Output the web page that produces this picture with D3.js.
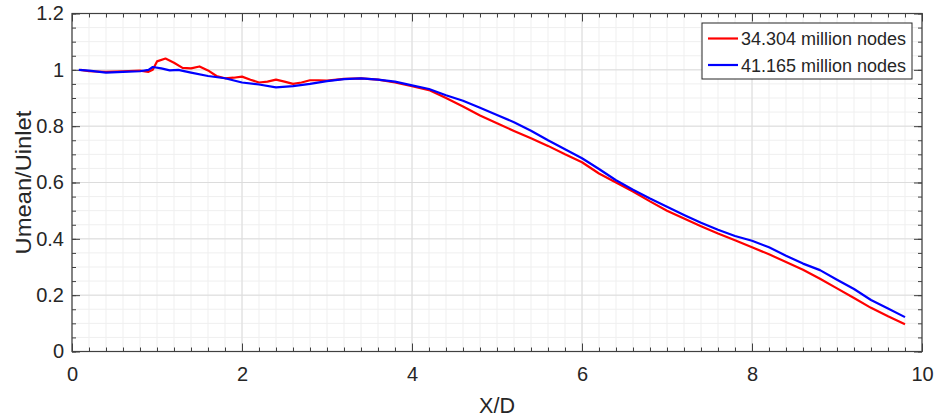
<!DOCTYPE html>
<html><head><meta charset="utf-8">
<script src="https://cdn.jsdelivr.net/npm/d3@7"></script>
<style>body{margin:0;background:#fff}svg{display:block}text{font-family:"Liberation Sans",Arial,sans-serif;fill:#262626}</style>
</head><body><svg id="c" width="936" height="420"></svg>
<script>
const seriesNames = ["34.304 million nodes", "41.165 million nodes"];
const seriesColors = ["#ff0000", "#0000ff"];
const redX = [0.1,0.2,0.4,0.6,0.8,0.9,0.95,1.0,1.1,1.2,1.3,1.4,1.5,1.6,1.7,1.8,1.9,2.0,2.1,2.2,2.3,2.4,2.5,2.6,2.7,2.8,2.9,3.0,3.2,3.4,3.6,3.8,4.0,4.2,4.4,4.6,4.8,5.0,5.2,5.4,5.6,5.8,6.0,6.2,6.4,6.6,6.8,7.0,7.2,7.4,7.6,7.8,8.0,8.2,8.4,8.6,8.8,9.0,9.2,9.4,9.6,9.8];
const redY = [1.0,0.995,0.993,0.995,0.997,0.993,1.0,1.03,1.04,1.025,1.007,1.005,1.012,0.998,0.978,0.97,0.972,0.976,0.965,0.955,0.958,0.965,0.958,0.95,0.955,0.963,0.963,0.962,0.968,0.97,0.965,0.955,0.942,0.928,0.9,0.87,0.838,0.81,0.783,0.757,0.73,0.70,0.672,0.632,0.6,0.568,0.533,0.5,0.472,0.445,0.419,0.395,0.37,0.345,0.318,0.29,0.258,0.224,0.19,0.155,0.125,0.097];
const blueX = [0.08,0.2,0.4,0.6,0.8,0.9,0.95,1.05,1.15,1.25,1.4,1.6,1.8,2.0,2.2,2.4,2.6,2.8,3.0,3.2,3.4,3.6,3.8,4.0,4.2,4.4,4.6,4.8,5.0,5.2,5.4,5.6,5.8,6.0,6.2,6.4,6.6,6.8,7.0,7.2,7.4,7.6,7.8,8.0,8.2,8.4,8.6,8.8,9.0,9.2,9.4,9.6,9.8];
const blueY = [1.0,0.997,0.99,0.993,0.995,1.0,1.01,1.005,0.998,1.0,0.99,0.978,0.97,0.955,0.948,0.938,0.942,0.95,0.96,0.967,0.97,0.965,0.958,0.945,0.932,0.91,0.89,0.865,0.84,0.814,0.784,0.75,0.718,0.686,0.648,0.608,0.574,0.543,0.514,0.485,0.457,0.432,0.41,0.393,0.37,0.34,0.312,0.289,0.255,0.222,0.183,0.153,0.122];
const xTicks = [0,2,4,6,8,10];
const yTicks = [0,0.2,0.4,0.6,0.8,1,1.2];
const xLabel = "X/D", yLabel = "Umean/Uinlet";

const svg = d3.select("#c");
const L=72, R=922, T=13.5, B=351.5;
const x = d3.scaleLinear().domain([0,10]).range([L,R]);
const y = d3.scaleLinear().domain([0,1.2]).range([B,T]);
const xMinor = d3.range(0,10.001,0.2);
const yMinor = d3.range(0,1.2001,0.05);

// minor grid
svg.append("g").selectAll("line").data(xMinor).join("line")
  .attr("x1",d=>x(d)).attr("x2",d=>x(d)).attr("y1",T).attr("y2",B)
  .attr("stroke","#efefef").attr("stroke-width",1);
svg.append("g").selectAll("line").data(yMinor).join("line")
  .attr("y1",d=>y(d)).attr("y2",d=>y(d)).attr("x1",L).attr("x2",R)
  .attr("stroke","#efefef").attr("stroke-width",1);
// major grid
svg.append("g").selectAll("line").data(xTicks).join("line")
  .attr("x1",d=>x(d)).attr("x2",d=>x(d)).attr("y1",T).attr("y2",B)
  .attr("stroke","#dcdcdc").attr("stroke-width",1);
svg.append("g").selectAll("line").data(yTicks).join("line")
  .attr("y1",d=>y(d)).attr("y2",d=>y(d)).attr("x1",L).attr("x2",R)
  .attr("stroke","#dcdcdc").attr("stroke-width",1);

// axes
const axCol="#404040";
function styleAxis(g){g.select(".domain").remove();g.selectAll("line").attr("stroke",axCol);g.selectAll("text").style("font-size","20px").attr("fill","#262626");}
svg.append("g").attr("transform",`translate(0,${B})`).call(d3.axisBottom(x).tickValues(xTicks).tickFormat(d3.format("d")).tickSizeInner(-8).tickPadding(15)).call(styleAxis);
svg.append("g").attr("transform",`translate(0,${B})`).call(d3.axisBottom(x).tickValues(xMinor).tickFormat("").tickSizeInner(-4)).call(styleAxis);
svg.append("g").attr("transform",`translate(0,${T})`).call(d3.axisTop(x).tickValues(xTicks).tickFormat("").tickSizeInner(-8)).call(styleAxis);
svg.append("g").attr("transform",`translate(0,${T})`).call(d3.axisTop(x).tickValues(xMinor).tickFormat("").tickSizeInner(-4)).call(styleAxis);
svg.append("g").attr("transform",`translate(${L},0)`).call(d3.axisLeft(y).tickValues(yTicks).tickFormat(d=>d3.format("")(+d.toFixed(1))).tickSizeInner(-8).tickPadding(8)).call(styleAxis);
svg.append("g").attr("transform",`translate(${L},0)`).call(d3.axisLeft(y).tickValues(yMinor).tickFormat("").tickSizeInner(-4)).call(styleAxis);
svg.append("g").attr("transform",`translate(${R},0)`).call(d3.axisRight(y).tickValues(yTicks).tickFormat("").tickSizeInner(-8)).call(styleAxis);
svg.append("g").attr("transform",`translate(${R},0)`).call(d3.axisRight(y).tickValues(yMinor).tickFormat("").tickSizeInner(-4)).call(styleAxis);
svg.append("rect").attr("x",L).attr("y",T).attr("width",R-L).attr("height",B-T)
  .attr("fill","none").attr("stroke",axCol).attr("stroke-width",1.2);

// lines
const line = d3.line().x(d=>x(d[0])).y(d=>y(d[1]));
const series = [d3.zip(redX,redY), d3.zip(blueX,blueY)];
svg.append("g").selectAll("path").data(series).join("path")
  .attr("d",line).attr("fill","none").attr("stroke",(d,i)=>seriesColors[i])
  .attr("stroke-width",2.2).attr("stroke-linejoin","round");

// labels
svg.append("text").attr("x",(L+R)/2).attr("y",413).attr("text-anchor","middle").style("font-size","21.5px").text(xLabel);
svg.append("text").attr("transform",`translate(31,${(T+B)/2}) rotate(-90) scale(1.08,1)`).attr("text-anchor","middle").style("font-size","22px").text(yLabel);

// legend
const lg = svg.append("g");
lg.append("rect").attr("x",702).attr("y",23).attr("width",210).attr("height",56)
  .attr("fill","#fff").attr("stroke","#262626").attr("stroke-width",1);
seriesNames.forEach((n,i)=>{
  const yy = 38.5 + i*26.5;
  lg.append("line").attr("x1",708).attr("x2",738).attr("y1",yy).attr("y2",yy).attr("stroke",seriesColors[i]).attr("stroke-width",2.2);
  lg.append("text").attr("x",741).attr("y",yy+6.5).style("font-size","18px").text(n);
});
</script></body></html>
